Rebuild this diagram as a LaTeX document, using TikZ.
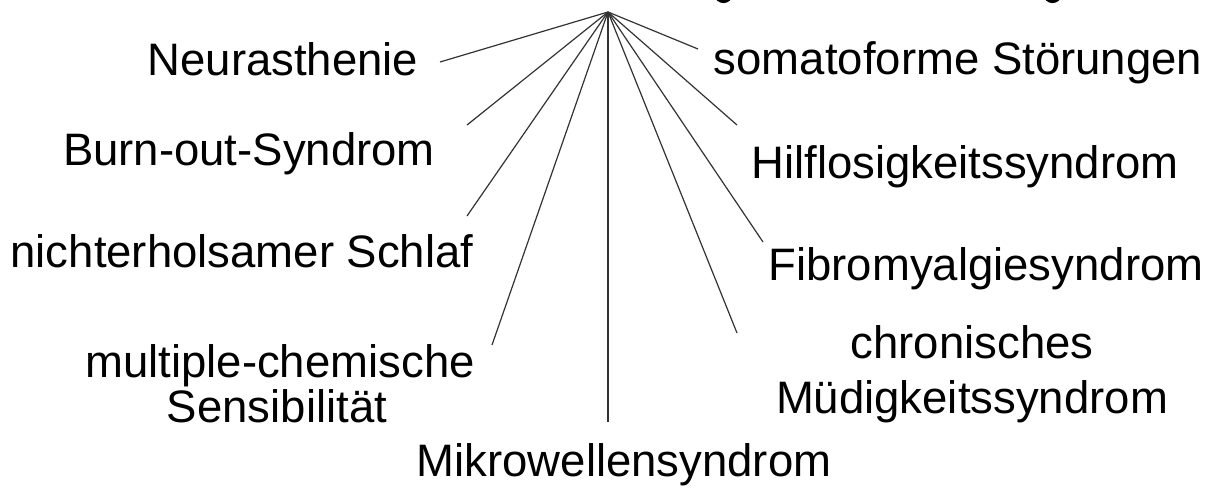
\documentclass[tikz,border=0pt]{standalone}
\usepackage{fontspec}
\setmainfont{Liberation Sans}
\begin{document}
\begin{tikzpicture}[x=1pt,y=-1pt,
  lbl/.style={font=\fontsize{45.5}{55}\selectfont, inner sep=0pt, text=black, align=center},
  conn/.style={draw=black!80, line width=1.2pt},
  frag/.style={draw=black, line width=3.6pt}]
\useasboundingbox[fill=white] (0,0) rectangle (1216,493);
% fragments of the cut-off title (descenders)
\draw[frag] (716,-7) .. controls (716,4) and (731,4) .. (731,-7);
\draw[frag] (1045,-7) .. controls (1045,4) and (1060,4) .. (1060,-7);
\coordinate (apex) at (608,12);
% labels
\node[lbl, anchor=base] (neur) at (283,75) {Neurasthenie};
\node[lbl, anchor=base] (burn) at (249,165) {Burn-out-Syndrom};
\node[lbl, anchor=base] (schl) at (242,267) {nichterholsamer Schlaf};
\node[lbl, anchor=base] (mcs)  at (280,377) {multiple-chemische};
\node[lbl, anchor=base] (sens) at (277,422) {Sensibilität};
\node[lbl, anchor=base] (mikro) at (624,476) {Mikrowellensyndrom};
\node[lbl, anchor=base] (soma) at (958,74) {somatoforme Störungen};
\node[lbl, anchor=base] (hilf) at (965,178) {Hilflosigkeitssyndrom};
\node[lbl, anchor=base] (fibro) at (986,280) {Fibromyalgiesyndrom};
\node[lbl, anchor=base] (chron) at (972,358) {chronisches};
\node[lbl, anchor=base] (muede) at (972,413) {Müdigkeitssyndrom};
% free ends of connectors
\coordinate (eneur) at (440,62);
\coordinate (eburn) at (467,125);
\coordinate (eschl) at (467,216);
\coordinate (emcs) at (492,345);
\coordinate (emikro) at (608,422);
\coordinate (esoma) at (698,49);
\coordinate (ehilf) at (737,125);
\coordinate (efibro) at (763,242);
\coordinate (echron) at (737,333);
\foreach \e in {eneur,eburn,eschl,emcs,emikro,esoma,ehilf,efibro,echron}
  \draw[conn] (apex) -- (\e);
\end{tikzpicture}
\end{document}
